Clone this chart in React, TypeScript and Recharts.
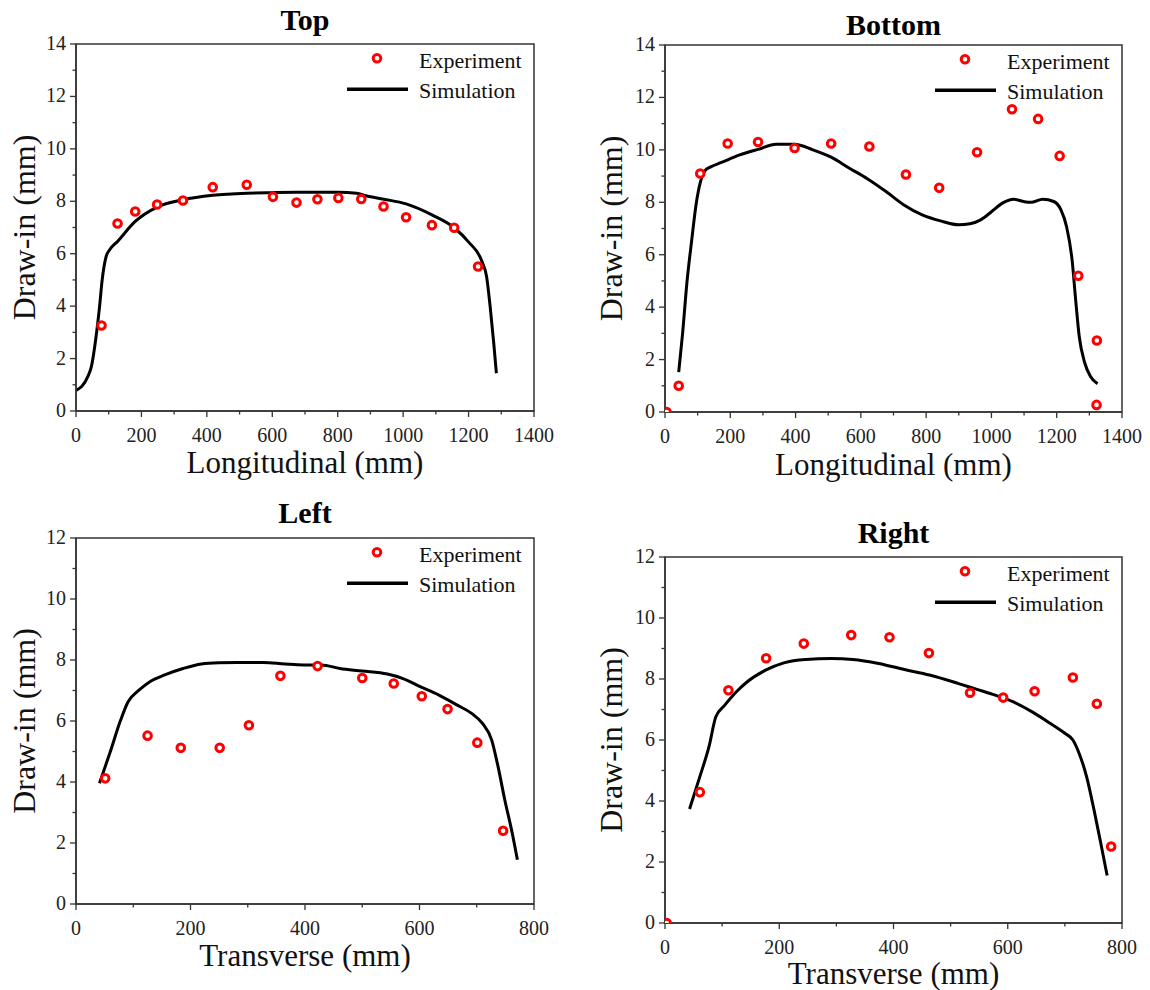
import React from 'react';
import { ComposedChart, Line, Scatter, XAxis, YAxis, ReferenceArea } from 'recharts';

// ---------- data ----------
const topExpX = [78, 127, 181, 248, 327, 418, 522, 602, 674, 738, 802, 872, 940, 1009, 1088, 1156, 1229];
const topExpY = [3.26, 7.15, 7.61, 7.88, 8.03, 8.54, 8.63, 8.17, 7.95, 8.08, 8.13, 8.09, 7.8, 7.39, 7.09, 6.99, 5.51];
const topSimX = [0, 36, 47, 60, 72, 80, 92, 103, 127, 181, 248, 327, 418, 522, 602, 674, 802, 858, 886, 941, 1009, 1088, 1156, 1199, 1241, 1255, 1266, 1277, 1285];
const topSimY = [0.78, 1.31, 1.69, 2.71, 3.98, 5.0, 5.89, 6.15, 6.47, 7.23, 7.78, 8.06, 8.23, 8.31, 8.33, 8.34, 8.34, 8.31, 8.21, 8.08, 7.9, 7.48, 6.99, 6.46, 5.7, 5.13, 3.98, 2.58, 1.44];

const botExpX = [5, 42, 108, 192, 285, 397, 509, 626, 738, 840, 956, 1063, 1143, 1209, 1266, 1323, 1322];
const botExpY = [0, 1.0, 9.1, 10.24, 10.3, 10.07, 10.24, 10.13, 9.06, 8.55, 9.91, 11.55, 11.18, 9.77, 5.2, 2.73, 0.27];
const botSimX = [42, 54, 67, 82, 95, 108, 122, 140, 173, 229, 285, 341, 397, 453, 509, 565, 621, 677, 732, 788, 844, 900, 934, 967, 1001, 1034, 1068, 1101, 1124, 1157, 1191, 1213, 1230, 1247, 1258, 1269, 1286, 1303, 1325];
const botSimY = [1.52, 3.01, 4.92, 6.57, 7.9, 8.75, 9.2, 9.35, 9.52, 9.81, 10.02, 10.21, 10.21, 10.0, 9.72, 9.3, 8.89, 8.41, 7.9, 7.52, 7.29, 7.14, 7.18, 7.33, 7.65, 7.97, 8.12, 8.02, 8.0, 8.12, 8.03, 7.71, 7.08, 5.81, 4.28, 2.88, 1.87, 1.36, 1.08];

const leftExpX = [51, 125, 183, 251, 302, 357, 422, 500, 555, 604, 649, 701, 746];
const leftExpY = [4.12, 5.52, 5.12, 5.12, 5.86, 7.48, 7.8, 7.41, 7.23, 6.81, 6.39, 5.29, 2.4];
const leftSimX = [41, 59, 78, 91, 110, 129, 155, 187, 219, 250, 282, 327, 365, 397, 429, 461, 500, 544, 570, 602, 634, 666, 691, 710, 726, 736, 749, 762, 771];
const leftSimY = [3.96, 4.94, 6.03, 6.63, 7.01, 7.29, 7.51, 7.72, 7.87, 7.91, 7.92, 7.92, 7.87, 7.84, 7.84, 7.72, 7.64, 7.54, 7.4, 7.12, 6.85, 6.52, 6.25, 5.92, 5.38, 4.61, 3.41, 2.32, 1.45];

const rightExpX = [3, 61, 111, 177, 243, 326, 393, 462, 534, 592, 647, 714, 756, 781];
const rightExpY = [0, 4.29, 7.63, 8.68, 9.16, 9.44, 9.37, 8.85, 7.55, 7.39, 7.6, 8.05, 7.19, 2.51];
const rightSimX = [43, 61, 77, 89, 105, 125, 144, 176, 208, 246, 291, 329, 374, 419, 463, 514, 546, 578, 610, 642, 674, 700, 714, 725, 738, 751, 764, 774];
const rightSimY = [3.74, 4.8, 5.78, 6.76, 7.15, 7.58, 7.91, 8.29, 8.53, 8.64, 8.67, 8.64, 8.51, 8.31, 8.13, 7.85, 7.66, 7.47, 7.25, 6.93, 6.55, 6.22, 6.0, 5.56, 4.8, 3.71, 2.51, 1.56];

const longTicks = [0, 100, 200, 300, 400, 500, 600, 700, 800, 900, 1000, 1100, 1200, 1300, 1400];
const transTicks = [0, 100, 200, 300, 400, 500, 600, 700, 800];
const yTicks14 = [0, 1, 2, 3, 4, 5, 6, 7, 8, 9, 10, 11, 12, 13, 14];
const yTicks12 = [0, 1, 2, 3, 4, 5, 6, 7, 8, 9, 10, 11, 12];

const legendLabels = ['Experiment', 'Simulation'];
const yLabel = 'Draw-in (mm)';

const zip = (xs: number[], ys: number[]) => xs.map((x, i) => ({ x, y: ys[i] }));

const FONT = "'Liberation Serif', 'Times New Roman', serif";
const AXIS = '#333';
const textStyle = { fontFamily: FONT };

const XTick = (props: any) => {
  const { x, y, payload, major } = props;
  const v = payload.value;
  const isMajor = v % major === 0;
  return (
    <g>
      <line x1={x} x2={x} y1={y} y2={y + (isMajor ? 6 : 3.5)} stroke={AXIS} strokeWidth={1.3} />
      {isMajor && (
        <text x={x} y={y + 31} textAnchor="middle" fontSize={20} fill="#222" style={textStyle}>
          {v}
        </text>
      )}
    </g>
  );
};

const YTick = (props: any) => {
  const { x, y, payload } = props;
  const v = payload.value;
  const isMajor = v % 2 === 0;
  return (
    <g>
      <line x1={x - (isMajor ? 6 : 3.5)} x2={x} y1={y} y2={y} stroke={AXIS} strokeWidth={1.3} />
      {isMajor && (
        <text x={x - 10} y={y + 6} textAnchor="end" fontSize={20} fill="#222" style={textStyle}>
          {v}
        </text>
      )}
    </g>
  );
};

const Ring = (props: any) => {
  const { cx, cy } = props;
  if (cx == null || cy == null) return null;
  return <circle cx={cx} cy={cy} r={3.8} fill="#fff" stroke="#ff0000" strokeWidth={3} />;
};

type PanelProps = {
  left: number;
  top: number;
  plot: { l: number; r: number; t: number; b: number };
  title: string;
  titleY: number;
  xLabel: string;
  xLabelY: number;
  yLabelX: number;
  xMax: number;
  yMax: number;
  xTicks: number[];
  yTicks: number[];
  exp: { x: number; y: number }[];
  sim: { x: number; y: number }[];
};

const W = 575;
const H = 495;

const Panel = (p: PanelProps) => {
  const xAxisH = 30;
  const margin = { top: p.plot.t, right: W - p.plot.r, left: 0, bottom: H - p.plot.b - xAxisH };
  const cx = (p.plot.l + p.plot.r) / 2;
  const cy = (p.plot.t + p.plot.b) / 2;
  const lx = p.plot.r;
  const ly = p.plot.t;
  return (
    <div style={{ position: 'absolute', left: p.left, top: p.top, width: W, height: H }}>
      <ComposedChart width={W} height={H} margin={margin}>
        <XAxis
          type="number"
          dataKey="x"
          domain={[0, p.xMax]}
          ticks={p.xTicks}
          interval={0}
          allowDataOverflow
          height={xAxisH}
          tickSize={0}
          tickMargin={0}
          tickLine={false}
          axisLine={{ stroke: AXIS, strokeWidth: 1.5 }}
          tick={(tp: any) => <XTick {...tp} major={200} />}
        />
        <YAxis
          type="number"
          dataKey="y"
          domain={[0, p.yMax]}
          ticks={p.yTicks}
          interval={0}
          allowDataOverflow
          width={p.plot.l}
          tickSize={0}
          tickMargin={0}
          tickLine={false}
          axisLine={{ stroke: AXIS, strokeWidth: 1.5 }}
          tick={(tp: any) => <YTick {...tp} />}
        />
        <ReferenceArea x1={0} x2={p.xMax} y1={0} y2={p.yMax} fill="none" stroke={AXIS} strokeWidth={1.5} />
        <Line
          data={p.sim}
          dataKey="y"
          type="monotone"
          stroke="#000"
          strokeWidth={3}
          dot={false}
          isAnimationActive={false}
        />
        <Scatter data={p.exp} dataKey="y" shape={<Ring />} isAnimationActive={false} />
      </ComposedChart>
      <svg
        width={W}
        height={H}
        style={{ position: 'absolute', left: 0, top: 0, pointerEvents: 'none', fontFamily: FONT }}
      >
        <text x={cx} y={p.titleY} textAnchor="middle" fontSize={30} fontWeight="bold" fill="#000" style={textStyle}>
          {p.title}
        </text>
        <text x={cx} y={p.xLabelY} textAnchor="middle" fontSize={31} fill="#111" style={textStyle}>
          {p.xLabel}
        </text>
        <text
          x={p.yLabelX}
          y={cy}
          textAnchor="middle"
          fontSize={32}
          fill="#111"
          style={textStyle}
          transform={`rotate(-90 ${p.yLabelX} ${cy})`}
        >
          {yLabel}
        </text>
        <circle cx={lx - 157} cy={ly + 14.3} r={3.8} fill="#fff" stroke="#ff0000" strokeWidth={3} />
        <text x={lx - 115} y={ly + 24.3} fontSize={22} fill="#111" style={textStyle}>
          {legendLabels[0]}
        </text>
        <line x1={lx - 187} x2={lx - 126} y1={ly + 45.3} y2={ly + 45.3} stroke="#000" strokeWidth={3.5} />
        <text x={lx - 115} y={ly + 54.3} fontSize={22} fill="#111" style={textStyle}>
          {legendLabels[1]}
        </text>
      </svg>
    </div>
  );
}

export default function App() {
  return (
    <div style={{ position: 'absolute', left: 0, top: 0, width: 1150, height: 990, background: '#fff', fontFamily: FONT }}>
      <Panel
        left={0}
        top={0}
        plot={{ l: 76, r: 534, t: 44, b: 411 }}
        title="Top"
        titleY={30}
        xLabel="Longitudinal (mm)"
        xLabelY={473}
        yLabelX={35}
        xMax={1400}
        yMax={14}
        xTicks={longTicks}
        yTicks={yTicks14}
        exp={zip(topExpX, topExpY)}
        sim={zip(topSimX, topSimY)}
      />
      <Panel
        left={575}
        top={0}
        plot={{ l: 90, r: 547, t: 45, b: 412 }}
        title="Bottom"
        titleY={35}
        xLabel="Longitudinal (mm)"
        xLabelY={475}
        yLabelX={47}
        xMax={1400}
        yMax={14}
        xTicks={longTicks}
        yTicks={yTicks14}
        exp={zip(botExpX, botExpY)}
        sim={zip(botSimX, botSimY)}
      />
      <Panel
        left={0}
        top={495}
        plot={{ l: 76, r: 534, t: 43, b: 409 }}
        title="Left"
        titleY={28}
        xLabel="Transverse (mm)"
        xLabelY={471}
        yLabelX={35}
        xMax={800}
        yMax={12}
        xTicks={transTicks}
        yTicks={yTicks12}
        exp={zip(leftExpX, leftExpY)}
        sim={zip(leftSimX, leftSimY)}
      />
      <Panel
        left={575}
        top={495}
        plot={{ l: 90, r: 547, t: 62, b: 428 }}
        title="Right"
        titleY={48}
        xLabel="Transverse (mm)"
        xLabelY={489}
        yLabelX={47}
        xMax={800}
        yMax={12}
        xTicks={transTicks}
        yTicks={yTicks12}
        exp={zip(rightExpX, rightExpY)}
        sim={zip(rightSimX, rightSimY)}
      />
    </div>
  );
}
